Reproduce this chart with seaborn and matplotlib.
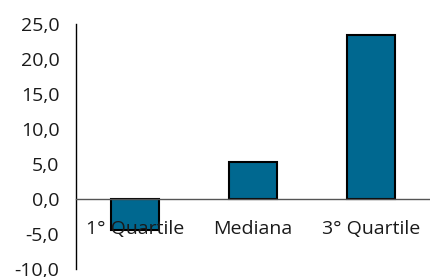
import matplotlib
matplotlib.use("Agg")
import matplotlib.pyplot as plt
import seaborn as sns
import pandas as pd

# values
categories = ["1° Quartile", "Mediana", "3° Quartile"]
values = [-4.4, 5.25, 23.4]
yticks = [-10, -5, 0, 5, 10, 15, 20, 25]

df = pd.DataFrame({"cat": categories, "val": values})

sns.set_theme(style="white")
plt.rcParams["font.family"] = ["Open Sans", "DejaVu Sans"]

fig = plt.figure(figsize=(4.3, 2.77), dpi=100)
ax = fig.add_axes([76 / 430, 8 / 277, 354 / 430, 245 / 277])

sns.barplot(data=df, x="cat", y="val", color="#006890", width=0.41,
            edgecolor="black", linewidth=1.5, saturation=1, ax=ax)
ax.set_axisbelow(False)

ax.set_ylim(-10, 25)
ax.set_xlim(-0.5, 2.5)
ax.set_yticks(yticks)
ax.set_yticklabels([f"{v:.1f}".replace(".", ",") for v in yticks])

# category ticks sit between the bars, labels at the centres
ax.set_xticks([0.5, 1.5])
ax.set_xticklabels([])
ax.set_xticks([0, 1, 2], minor=True)
ax.set_xticklabels(categories, minor=True)
ax.tick_params(axis="x", which="major", direction="out", length=5, width=1, color="black")
ax.tick_params(axis="x", which="minor", length=0, pad=15, labelsize=14, labelcolor="#1a1a1a")
ax.tick_params(axis="y", direction="out", length=5, width=1, color="black", pad=7,
               labelsize=14, labelcolor="#1a1a1a")

ax.spines["top"].set_visible(False)
ax.spines["right"].set_visible(False)
ax.spines["bottom"].set_position(("data", 0))
ax.spines["bottom"].set_color("#555555")
ax.spines["bottom"].set_linewidth(1)
ax.spines["left"].set_color("black")
ax.spines["left"].set_linewidth(1)
ax.set_xlabel("")
ax.set_ylabel("")

fig.savefig("out.png", dpi=100)
